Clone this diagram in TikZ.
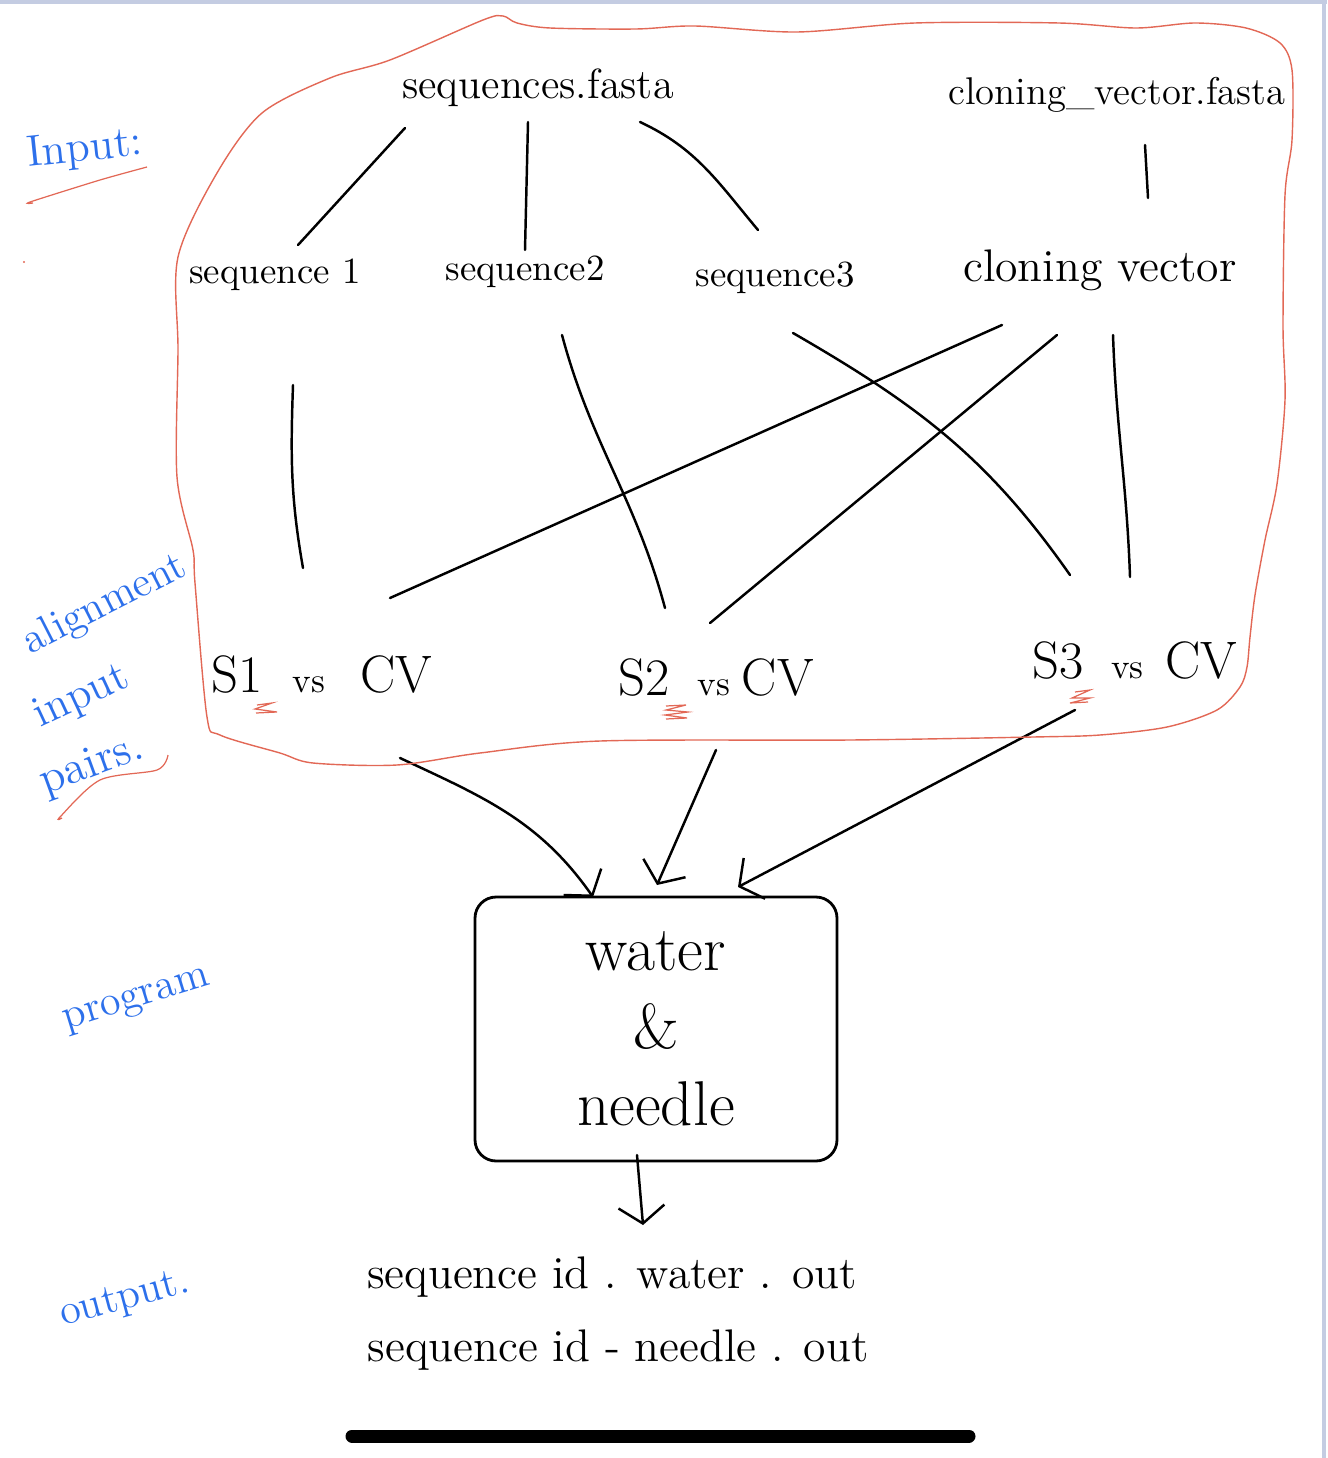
\documentclass[tikz,border=0pt]{standalone}
\usepackage{fontspec}
\usepackage{tikz}
\usetikzlibrary{arrows.meta,positioning}
\definecolor{inkblue}{RGB}{45,112,235}
\definecolor{inkred}{RGB}{226,104,86}
\definecolor{screen}{RGB}{196,204,226}
\tikzset{every picture/.style={line width=0.7pt}}
\tikzstyle{word}=[inner sep=1pt]
\tikzstyle{note}=[inner sep=0pt,text=inkblue,font=\fontsize{12.5}{14}\selectfont]
\tikzstyle{pair}=[inner sep=1pt,font=\fontsize{15}{17}\selectfont]
\tikzstyle{link}=[line cap=round]
\tikzstyle{flow}=[line cap=round,-{Straight Barb[length=1.7mm,width=4.6mm]}]
\tikzstyle{scrawl}=[draw=inkred,line width=0.35pt]

\begin{document}
\begin{tikzpicture}
\useasboundingbox (0,0) rectangle (13.27,-14.58);
% screen edges
\draw[screen,line width=1.2pt] (0,-0.02) -- (13.27,-0.02);
\draw[screen,line width=1.2pt] (13.24,0) -- (13.24,-14.58);

% input files
\node[word,font=\fontsize{12}{14}\selectfont] (seqfa) at (5.38,-0.88) {sequences.fasta};
\node[word,font=\fontsize{11}{13}\selectfont] (cvfa) at (11.17,-0.95) {cloning\_vector.fasta};
\node[word,font=\fontsize{10.5}{12}\selectfont] (seq1) at (2.75,-2.75) {sequence 1};
\node[word,font=\fontsize{10.5}{12}\selectfont] (seq2) at (5.25,-2.72) {sequence2};
\node[word,font=\fontsize{10.5}{12}\selectfont] (seq3) at (7.75,-2.78) {sequence3};
\node[word,font=\fontsize{13}{15}\selectfont] (cv) at (11.0,-2.70) {cloning vector};

% alignment pairs
\node[pair] (s1cv) at (3.22,-6.74) {S1\hspace{3mm}{\fontsize{10}{12}\selectfont vs}\hspace{3.5mm}CV};
\node[pair] (s2cv) at (7.16,-6.77) {S2\hspace{2.8mm}{\fontsize{10}{12}\selectfont vs}\hspace{1.2mm}CV};
\node[pair] (s3cv) at (11.35,-6.60) {S3\hspace{2.7mm}{\fontsize{10}{12}\selectfont vs}\hspace{2.2mm}CV};

% program and output
\node[draw,rounded corners=6pt,line width=0.8pt,minimum width=3.62cm,minimum height=2.64cm,
  align=center,font=\fontsize{18}{22}\selectfont] (prog) at (6.56,-10.29) {water\\\&\\needle};
\node[word,font=\fontsize{13}{15}\selectfont] (out1) at (6.12,-12.77) {sequence id . water . out};
\node[word,font=\fontsize{13}{15}\selectfont] (out2) at (6.18,-13.50) {sequence id - needle . out};

% side notes
\node[note] (lin) at (0.85,-1.50) [rotate=6] {Input:};
\node[note,font=\fontsize{12}{14}\selectfont] (lal) at (1.05,-6.05) [rotate=27] {alignment};
\node[note] (lip) at (0.82,-6.97) [rotate=25] {input};
\node[note,font=\fontsize{13}{15}\selectfont] (lpa) at (0.92,-7.66) [rotate=20] {pairs.};
\node[note,font=\fontsize{12}{14}\selectfont] (lpr) at (1.37,-10.02) [rotate=17] {program};
\node[note,font=\fontsize{12}{14}\selectfont] (lou) at (1.25,-13.00) [rotate=15] {output.};

\path[link]
([xshift=-13.3mm,yshift=-4mm]seqfa.center) edge ([xshift=2.3mm,yshift=3mm]seq1.center)
([xshift=-1mm,yshift=-3.4mm]seqfa.center) edge ([xshift=0mm,yshift=2.2mm]seq2.center)
([xshift=10.2mm,yshift=-3.4mm]seqfa.center) edge[out=-25,in=130] ([xshift=-1.7mm,yshift=4.8mm]seq3.center)
([xshift=2.8mm,yshift=-5mm]cvfa.center) edge ([xshift=4.8mm,yshift=7.2mm]cv.center)
([xshift=1.8mm,yshift=-11mm]seq1.center) edge[out=-92,in=100] ([xshift=-1.9mm,yshift=10.6mm]s1cv.center)
([xshift=3.7mm,yshift=-6.3mm]seq2.center) edge[out=-75,in=105] ([xshift=-5.1mm,yshift=6.9mm]s2cv.center)
([xshift=1.8mm,yshift=-5.5mm]seq3.center) edge[out=-30,in=125] ([xshift=-6.5mm,yshift=8.5mm]s3cv.center)
([xshift=-9.8mm,yshift=-5.5mm]cv.center) edge ([xshift=6.8mm,yshift=7.6mm]s1cv.center)
([xshift=-4.3mm,yshift=-6.5mm]cv.center) edge ([xshift=-0.6mm,yshift=5.4mm]s2cv.center)
([xshift=1.3mm,yshift=-6.5mm]cv.center) edge[out=-88,in=92] ([xshift=-0.5mm,yshift=8.3mm]s3cv.center);

\path[flow]
([xshift=7.8mm,yshift=-8.4mm]s1cv.center) edge[out=-25,in=125] ([xshift=-6.3mm,yshift=13.2mm]prog.center)
([xshift=0mm,yshift=-7.3mm]s2cv.center) edge ([xshift=0.1mm,yshift=14.4mm]prog.center)
([xshift=-6mm,yshift=-5mm]s3cv.center) edge ([xshift=8.2mm,yshift=14.2mm]prog.center)
([xshift=-1.9mm,yshift=-12.6mm]prog.center) edge ([xshift=3.1mm,yshift=5.2mm]out1.center);

% red boundary round the inputs
\draw[inkred,line width=0.4pt] plot[smooth cycle,tension=0.5] coordinates {
(1.78,-2.57) (2.17,-1.73) (2.62,-1.13) (3.30,-0.78) (3.90,-0.60) (4.83,-0.20) (5.03,-0.16) (5.17,-0.23)
(5.50,-0.28) (6.36,-0.29) (6.95,-0.26) (7.97,-0.32) (9.15,-0.23) (10.59,-0.23) (11.36,-0.28)
(11.95,-0.23) (12.46,-0.28) (12.80,-0.43) (12.92,-0.70) (12.92,-1.40) (12.85,-1.95)
(12.83,-3.26) (12.85,-4.00) (12.77,-4.84) (12.65,-5.40) (12.55,-5.95) (12.50,-6.37)
(12.47,-6.67) (12.40,-6.87) (12.17,-7.10) (11.67,-7.27) (11.00,-7.35) (10.33,-7.37)
(8.50,-7.40) (6.00,-7.41) (4.80,-7.53) (3.97,-7.65) (3.13,-7.63) (2.80,-7.53) (2.20,-7.35)
(2.07,-7.17) (1.95,-5.83) (1.93,-5.50) (1.77,-4.77) (1.78,-3.50)};

% red marks
\draw[scrawl] plot[smooth,tension=0.4] coordinates {(1.47,-1.67) (1.00,-1.80) (0.30,-2.02) (0.33,-2.03)};
\draw[scrawl] plot[smooth,tension=0.5] coordinates {(1.68,-7.55) (1.57,-7.70) (1.00,-7.80) (0.60,-8.17) (0.62,-8.18)};
\fill[inkred] (0.24,-2.62) circle (0.3pt);
\draw[scrawl] (2.57,-7.05) -- (2.72,-7.03) -- (2.55,-7.09) -- (2.77,-7.12) -- (2.56,-7.13);
\draw[scrawl] (6.66,-7.06) -- (6.86,-7.05) -- (6.66,-7.10) -- (6.88,-7.12) -- (6.65,-7.15) -- (6.87,-7.18) -- (6.66,-7.19);
\draw[scrawl] (10.75,-6.92) -- (10.90,-6.90) -- (10.72,-6.98) -- (10.90,-6.98) -- (10.70,-7.03) -- (10.88,-7.02);

% home bar
\draw[line width=3.7pt,line cap=round] (3.52,-14.36) -- (9.69,-14.36);
\end{tikzpicture}
\end{document}
